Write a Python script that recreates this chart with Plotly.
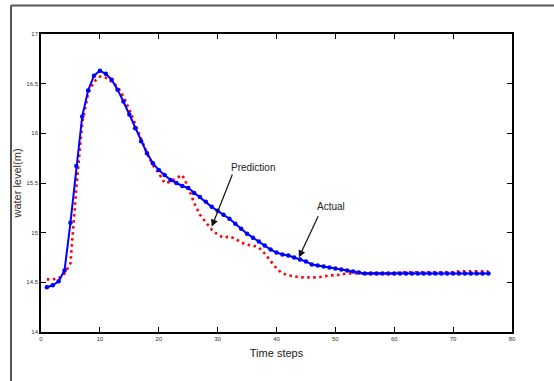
import plotly.graph_objects as go

time_steps = list(range(1, 77))

actual = [14.45, 14.47, 14.51, 14.62, 15.10, 15.67, 16.17, 16.43, 16.58, 16.63,
          16.60, 16.54, 16.44, 16.32, 16.19, 16.05, 15.92, 15.80, 15.70, 15.63,
          15.58, 15.53, 15.50, 15.47, 15.45, 15.40, 15.36, 15.31, 15.26, 15.22,
          15.18, 15.14, 15.09, 15.04, 14.99, 14.95, 14.91, 14.87, 14.83, 14.80,
          14.78, 14.77, 14.75, 14.73, 14.71, 14.68, 14.67, 14.66, 14.65, 14.64,
          14.63, 14.62, 14.61, 14.60, 14.59, 14.59, 14.59, 14.59, 14.59, 14.59,
          14.59, 14.59, 14.59, 14.59, 14.59, 14.59, 14.59, 14.59, 14.59, 14.59,
          14.59, 14.59, 14.59, 14.59, 14.59, 14.59]

prediction = [14.53, 14.53, 14.54, 14.59, 14.69, 15.45, 16.10, 16.40, 16.52, 16.57,
              16.56, 16.52, 16.47, 16.37, 16.24, 16.09, 15.95, 15.80, 15.68, 15.60,
              15.50, 15.51, 15.55, 15.58, 15.46, 15.30, 15.18, 15.10, 15.03, 14.98,
              14.95, 14.96, 14.94, 14.90, 14.88, 14.87, 14.85, 14.79, 14.71, 14.64,
              14.59, 14.57, 14.56, 14.55, 14.55, 14.55, 14.55, 14.56, 14.57, 14.57,
              14.58, 14.59, 14.59, 14.59, 14.59, 14.59, 14.59, 14.59, 14.59, 14.59,
              14.60, 14.60, 14.60, 14.60, 14.60, 14.60, 14.60, 14.60, 14.60, 14.60,
              14.61, 14.61, 14.61, 14.61, 14.61, 14.61]

x_ticks = [0, 10, 20, 30, 40, 50, 60, 70, 80]
y_ticks = [14, 14.5, 15, 15.5, 16, 16.5, 17]

fig = go.Figure()
fig.add_trace(go.Scatter(
    x=time_steps, y=prediction, mode="lines", name="Prediction",
    line=dict(color="#ff0000", width=2.6, dash="2.5px,3.5px"),
))
fig.add_trace(go.Scatter(
    x=time_steps, y=actual, mode="lines+markers", name="Actual",
    line=dict(color="#0000ff", width=2),
    marker=dict(color="#0000ff", size=4.5, symbol="circle"),
))

# arrows
fig.add_annotation(x=29.0, y=15.06, ax=32.6, ay=15.60, axref="x", ayref="y",
                   xref="x", yref="y", text="", showarrow=True,
                   arrowhead=2, arrowsize=1.2, arrowwidth=1.2, arrowcolor="#111")
fig.add_annotation(x=43.8, y=14.75, ax=47.2, ay=15.18, axref="x", ayref="y",
                   xref="x", yref="y", text="", showarrow=True,
                   arrowhead=2, arrowsize=1.2, arrowwidth=1.2, arrowcolor="#111")
fig.add_annotation(x=36.0, y=15.66, xref="x", yref="y", text="Prediction",
                   showarrow=False, font=dict(family="Liberation Sans", size=10, color="#222"))
fig.add_annotation(x=49.2, y=15.26, xref="x", yref="y", text="Actual",
                   showarrow=False, font=dict(family="Liberation Sans", size=10, color="#222"))

# outer frame (left and top lines)
fig.add_shape(type="line", xref="paper", yref="paper", x0=-0.0637, x1=-0.0637,
              y0=1.0956, y1=-0.17, line=dict(color="#555", width=2))
fig.add_shape(type="line", xref="paper", yref="paper", x0=-0.0637, x1=1.09,
              y0=1.0956, y1=1.0956, line=dict(color="#555", width=2))

axis_common = dict(
    showgrid=False, zeroline=False, showline=True, linecolor="black", linewidth=1.5,
    mirror="ticks", ticks="inside", ticklen=5, tickwidth=1.2, tickcolor="black",
    tickfont=dict(family="Liberation Sans", size=6, color="#333"),
)

fig.update_xaxes(range=[0, 80], tickvals=x_ticks, ticktext=[str(v) for v in x_ticks],
                 title=dict(text="Time steps", standoff=8,
                            font=dict(family="Liberation Sans", size=11, color="#222")),
                 **axis_common)
fig.update_yaxes(range=[14, 17], tickvals=y_ticks, ticktext=[str(v) for v in y_ticks],
                 title=dict(text="water level(m)", standoff=3,
                            font=dict(family="Liberation Sans", size=11, color="#3d2b1f")),
                 **axis_common)

fig.update_layout(
    width=554, height=381, showlegend=False,
    margin=dict(l=41, r=42, t=34, b=49, autoexpand=False),
    paper_bgcolor="white", plot_bgcolor="white",
)

fig.write_html("out.html", config={"displayModeBar": False},
               post_script="document.body.style.margin='0';document.body.style.overflow='hidden';")
